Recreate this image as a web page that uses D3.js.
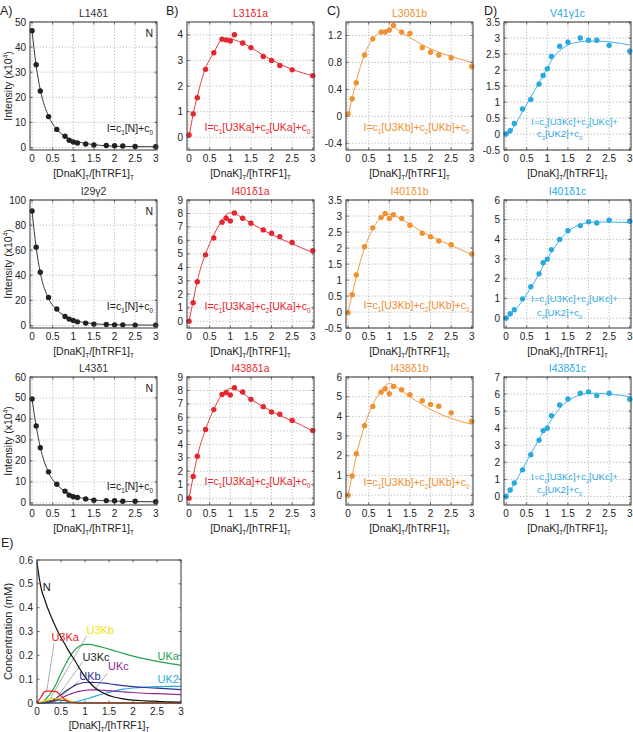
<!DOCTYPE html>
<html><head><meta charset="utf-8">
<script src="https://cdn.jsdelivr.net/npm/d3@7"></script>
<style>
body{margin:0;background:#fff}
svg{display:block}
text{font-family:"Liberation Sans",Arial,Helvetica,sans-serif}
</style>
</head><body>
<svg id="c" width="633" height="732"></svg>
<script>
// ---------- DATA ----------
const xs = [0,0.1,0.2,0.4,0.6,0.8,0.9,1.0,1.1,1.3,1.5,1.8,2.0,2.2,2.5,3.0];
const xTickLabels = [0,0.5,1,1.5,2,2.5,3];

// Column A (N)
const L14d1    = [46.5,33,22.5,12.3,7.2,4.5,2.9,2.2,1.8,1.4,1.0,0.8,0.7,0.6,0.4,0.3];
const L14d1Fit = [46.5,32.5,23,12.5,7.3,4.4,3.5,2.8,2.3,1.6,1.1,0.7,0.55,0.45,0.35,0.3];
const I29g2    = [91.2,62.4,42.4,22.4,13.1,7.2,5.1,4.0,2.9,1.9,1.1,0.8,0.5,0.5,0.3,0.3];
const I29g2Fit = [91,62,42,21.5,12.5,7.5,5.8,4.5,3.5,2.2,1.4,0.8,0.6,0.5,0.4,0.3];
const L43d1    = [49.5,36.7,26.3,14.8,8.9,5.6,3.7,2.9,2.6,1.9,1.3,1.1,1.0,0.8,0.8,0.6];
const L43d1Fit = [49.5,36.5,26.5,14.5,8.8,5.5,4.4,3.5,2.8,2.0,1.4,1.0,0.85,0.75,0.65,0.55];
// Column B (a)
const L31d1a    = [0.09,0.91,1.54,2.65,3.3,3.83,3.8,3.76,4.0,3.68,3.5,3.15,3.0,2.8,2.63,2.4];
const L31d1aFit = [0.02,0.9,1.6,2.7,3.3,3.82,3.85,3.87,3.8,3.68,3.5,3.2,3.02,2.86,2.65,2.4];
const I401d1a    = [0,1.38,2.93,4.93,6.18,7.35,7.65,7.45,8.03,7.65,7.28,6.78,6.53,6.28,5.85,5.23];
const I401d1aFit = [0,1.5,3.0,5.0,6.4,7.5,7.9,8.05,8.0,7.65,7.3,6.75,6.45,6.15,5.75,5.1];
const I438d1a    = [0,1.61,3.12,5.1,6.58,7.7,7.85,7.66,8.2,7.89,7.34,6.8,6.4,6.23,5.78,5.03];
const I438d1aFit = [0,1.6,3.1,5.1,6.6,7.7,8.0,8.15,8.1,7.8,7.35,6.8,6.45,6.15,5.75,5.0];
// Column C (b)
const L30d1b    = [0.035,0.26,0.50,0.91,1.15,1.25,1.25,1.28,1.35,1.25,1.23,1.02,0.95,0.91,0.87,0.74];
const L30d1bFit = [0,0.27,0.52,0.92,1.15,1.25,1.27,1.3,1.32,1.24,1.17,1.06,1.0,0.95,0.89,0.8];
const I401d1b    = [-0.02,0.54,1.16,2.04,2.63,2.95,3.08,2.92,3.04,2.92,2.71,2.46,2.35,2.22,2.1,1.81];
const I401d1bFit = [0,0.55,1.1,2.0,2.6,2.95,3.02,3.05,3.02,2.9,2.75,2.5,2.37,2.25,2.08,1.8];
const I438d1b    = [0,0.97,2.1,3.53,4.5,5.23,5.4,5.15,5.52,5.35,5.1,4.8,4.6,4.52,4.18,3.75];
const I438d1bFit = [0,1.0,2.0,3.55,4.6,5.3,5.55,5.68,5.6,5.3,5.0,4.6,4.35,4.15,3.9,3.6];
// Column D (c)
const V41g1c    = [0,0.1,0.33,0.78,1.08,1.56,1.83,2.04,2.42,2.74,2.87,3.0,2.93,2.93,2.77,2.59];
const V41g1cFit = [0,0.07,0.25,0.7,1.15,1.6,1.85,2.05,2.3,2.6,2.78,2.88,2.9,2.9,2.88,2.78];
const I401d1c    = [0,0.22,0.43,0.98,1.6,2.25,2.81,3.0,3.48,4.0,4.44,4.7,4.89,4.83,4.97,4.92];
const I401d1cFit = [0,0.18,0.38,0.9,1.55,2.25,2.65,3.0,3.35,3.95,4.4,4.75,4.85,4.88,4.88,4.85];
const I438d1c    = [0,0.38,0.79,1.56,2.45,3.3,3.86,4.0,4.73,5.36,5.71,6.05,6.13,5.91,6.05,5.7];
const I438d1cFit = [0,0.35,0.75,1.6,2.5,3.35,3.8,4.15,4.5,5.15,5.6,5.95,6.05,6.05,6.0,5.85];
// error bar half-widths (C and D columns)
const errL30d1b = 0.04, errI401d1b = 0.07, errI438d1b = 0.12;
const errV41g1c = 0.08, errI401d1c = 0.1, errI438d1c = 0.12;

// y tick labels
const ticksA1 = [0,10,20,30,40,50];
const ticksA2 = [0,20,40,60,80,100];
const ticksA3 = [0,10,20,30,40,50,60];
const ticksB1 = [0,1,2,3,4];
const ticksB23 = [0,1,2,3,4,5,6,7,8,9];
const ticksC1 = [-0.4,0,0.4,0.8,1.2];
const ticksC2 = [-0.5,0,0.5,1,1.5,2,2.5,3,3.5];
const ticksC3 = [0,1,2,3,4,5,6];
const ticksD1 = [-0.5,0,0.5,1,1.5,2,2.5,3,3.5];
const ticksD2 = [0,1,2,3,4,5,6];
const ticksD3 = [0,1,2,3,4,5,6,7];

// Panel E: species concentrations (mM)
const eX    = [0,0.05,0.1,0.15,0.2,0.3,0.4,0.5,0.6,0.7,0.8,0.9,1.0,1.1,1.2,1.4,1.6,1.8,2.0,2.25,2.5,2.75,3.0];
const concN    = [0.59,0.52,0.47,0.44,0.41,0.36,0.315,0.275,0.24,0.205,0.175,0.14,0.11,0.085,0.065,0.04,0.025,0.017,0.012,0.009,0.007,0.005,0.004];
const concU3Ka = [0,0.015,0.03,0.046,0.05,0.05,0.048,0.03,0.012,0.003,0.001,0,0,0,0,0,0,0,0,0,0,0,0];
const concU3Kb = [0,0.002,0.005,0.008,0.012,0.018,0.02,0.02,0.016,0.008,0.003,0.001,0,0,0,0,0,0,0,0,0,0,0];
const concU3Kc = [0,0.001,0.002,0.004,0.006,0.01,0.012,0.012,0.01,0.006,0.002,0.001,0,0,0,0,0,0,0,0,0,0,0];
const concUKa  = [0,0,0.003,0.01,0.02,0.045,0.08,0.125,0.165,0.2,0.225,0.24,0.246,0.246,0.242,0.232,0.22,0.208,0.197,0.185,0.175,0.166,0.158];
const concUKb  = [0,0,0,0.001,0.002,0.008,0.02,0.035,0.05,0.063,0.075,0.082,0.086,0.087,0.086,0.083,0.078,0.073,0.069,0.065,0.062,0.059,0.056];
const concUKc  = [0,0,0,0,0.001,0.003,0.01,0.02,0.03,0.038,0.045,0.05,0.053,0.055,0.055,0.053,0.05,0.047,0.044,0.041,0.039,0.037,0.035];
const concUK2  = [0,0,0,0,0,0,0,0,0.001,0.003,0.005,0.01,0.015,0.021,0.028,0.04,0.05,0.058,0.063,0.067,0.069,0.07,0.07];
const eTicksY = [0,0.1,0.2,0.3,0.4,0.5,0.6];
const eTicksX = [0,0.5,1,1.5,2,2.5,3];
const eSpecies = ["N","U3Ka","U3Kb","U3Kc","UKa","UKb","UKc","UK2"];

// ---------- STYLE / LAYOUT ----------
const RED = "#e5262d", ORANGE = "#f09030", CYAN = "#2aa9e0", DARK = "#222";
const colLeft = [30, 187, 346, 504], rowTop = [22, 200, 377], W = 127, H = 128;
const FS = 10.5;

const panels = [
  {c:0,r:0,title:"L14δ1",col:DARK,y:L14d1,fit:L14d1Fit,dom:[-1,50],ticks:ticksA1,f:["I=c_1[N]+c_0"],fy:[110]},
  {c:0,r:1,title:"I29γ2",col:DARK,y:I29g2,fit:I29g2Fit,dom:[-2,100],ticks:ticksA2,f:["I=c_1[N]+c_0"],fy:[110]},
  {c:0,r:2,title:"L43δ1",col:DARK,y:L43d1,fit:L43d1Fit,dom:[-1,60],ticks:ticksA3,f:["I=c_1[N]+c_0"],fy:[113]},
  {c:1,r:0,title:"L31δ1a",col:RED,y:L31d1a,fit:L31d1aFit,dom:[-0.5,4.5],ticks:ticksB1,f:["I=c_1[U3Ka]+c_2[UKa]+c_0"],fy:[109]},
  {c:1,r:1,title:"I401δ1a",col:RED,y:I401d1a,fit:I401d1aFit,dom:[-0.5,9],ticks:ticksB23,f:["I=c_1[U3Ka]+c_2[UKa]+c_0"],fy:[110]},
  {c:1,r:2,title:"I438δ1a",col:RED,y:I438d1a,fit:I438d1aFit,dom:[-0.5,9],ticks:ticksB23,f:["I=c_1[U3Ka]+c_2[UKa]+c_0"],fy:[108]},
  {c:2,r:0,title:"L30δ1b",col:ORANGE,y:L30d1b,fit:L30d1bFit,dom:[-0.5,1.4],ticks:ticksC1,err:errL30d1b,f:["I=c_1[U3Kb]+c_2[UKb]+c_0"],fy:[109]},
  {c:2,r:1,title:"I401δ1b",col:ORANGE,y:I401d1b,fit:I401d1bFit,dom:[-0.5,3.5],ticks:ticksC2,err:errI401d1b,f:["I=c_1[U3Kb]+c_2[UKb]+c_0"],fy:[109]},
  {c:2,r:2,title:"I438δ1b",col:ORANGE,y:I438d1b,fit:I438d1bFit,dom:[-0.5,6],ticks:ticksC3,err:errI438d1b,f:["I=c_1[U3Kb]+c_2[UKb]+c_0"],fy:[109]},
  {c:3,r:0,title:"V41γ1c",col:CYAN,y:V41g1c,fit:V41g1cFit,dom:[-0.5,3.5],ticks:ticksD1,err:errV41g1c,f:["I=c_1[U3Kc]+c_2[UKc]+","c_3[UK2]+c_0"],fy:[103,115]},
  {c:3,r:1,title:"I401δ1c",col:CYAN,y:I401d1c,fit:I401d1cFit,dom:[-0.5,6],ticks:ticksD2,err:errI401d1c,f:["I=c_1[U3Kc]+c_2[UKc]+","c_3[UK2]+c_0"],fy:[102,116]},
  {c:3,r:2,title:"I438δ1c",col:CYAN,y:I438d1c,fit:I438d1cFit,dom:[-0.5,7],ticks:ticksD3,err:errI438d1c,f:["I=c_1[U3Kc]+c_2[UKc]+","c_3[UK2]+c_0"],fy:[103,116]},
];

const svg = d3.select("#c");

function rich(sel, str, size) {
  const parts = []; let buf = "", i = 0;
  while (i < str.length) {
    const ch = str[i];
    if ((ch === "_" || ch === "^") && i + 1 < str.length) {
      if (buf) { parts.push({t: buf}); buf = ""; }
      parts.push({t: str[i+1], k: ch}); i += 2;
    } else { buf += ch; i++; }
  }
  if (buf) parts.push({t: buf});
  let shift = 0;
  parts.forEach(p => {
    const ts = sel.append("tspan").text(p.t);
    const target = p.k === "_" ? size*0.28 : (p.k === "^" ? -size*0.42 : 0);
    if (target - shift !== 0) ts.attr("dy", target - shift);
    shift = target;
    if (p.k) ts.attr("font-size", size*0.6);
  });
}

function frame(g, x, y, w, h, xt, yt) {
  g.append("g").selectAll("line").data(xt).join("line")
    .attr("x1", d => x(d)).attr("x2", d => x(d)).attr("y1", 0).attr("y2", h)
    .attr("stroke", "#aaa").attr("stroke-width", 0.8).attr("stroke-dasharray", "1.2,2");
  g.append("g").selectAll("line").data(yt).join("line")
    .attr("y1", d => y(d)).attr("y2", d => y(d)).attr("x1", 0).attr("x2", w)
    .attr("stroke", "#aaa").attr("stroke-width", 0.8).attr("stroke-dasharray", "1.2,2");
}
function boxTicks(g, x, y, w, h, xt, yt) {
  const tl = 2.5;
  const tg = g.append("g").attr("stroke", "#444").attr("stroke-width", 0.8);
  xt.forEach(d => {
    tg.append("line").attr("x1", x(d)).attr("x2", x(d)).attr("y1", h).attr("y2", h - tl);
    tg.append("line").attr("x1", x(d)).attr("x2", x(d)).attr("y1", 0).attr("y2", tl);
  });
  yt.forEach(d => {
    tg.append("line").attr("y1", y(d)).attr("y2", y(d)).attr("x1", 0).attr("x2", tl);
    tg.append("line").attr("y1", y(d)).attr("y2", y(d)).attr("x1", w).attr("x2", w - tl);
  });
  g.append("rect").attr("x", 0).attr("y", 0).attr("width", w).attr("height", h)
    .attr("fill", "none").attr("stroke", "#444").attr("stroke-width", 1.1);
  g.append("g").selectAll("text").data(xt).join("text")
    .attr("x", d => x(d)).attr("y", h + 12).attr("text-anchor", "middle")
    .attr("font-size", FS - 0.5).attr("fill", "#222").text(d => d);
  g.append("g").selectAll("text").data(yt).join("text")
    .attr("x", -4).attr("y", d => y(d) + 3.5).attr("text-anchor", "end")
    .attr("font-size", FS - 0.5).attr("fill", "#222").text(d => d);
}
function xTitle(g, cx, yb) {
  const t = g.append("text").attr("x", cx).attr("y", yb).attr("text-anchor", "middle")
    .attr("font-size", FS).attr("fill", "#222");
  rich(t, "[DnaK]_T/[hTRF1]_T", FS);
}

panels.forEach(p => {
  const g = svg.append("g").attr("transform", `translate(${colLeft[p.c]},${rowTop[p.r]})`);
  const x = d3.scaleLinear().domain([-0.05, 3.03]).range([0, W]);
  const y = d3.scaleLinear().domain(p.dom).range([H, 0]);
  frame(g, x, y, W, H, xTickLabels, p.ticks);
  const line = d3.line().x((d, i) => x(xs[i])).y(d => y(d)).curve(d3.curveMonotoneX);
  g.append("path").datum(p.fit).attr("d", line).attr("fill", "none")
    .attr("stroke", p.col).attr("stroke-width", 0.9);
  if (p.err) {
    g.append("g").selectAll("line").data(p.y).join("line")
      .attr("x1", (d, i) => x(xs[i])).attr("x2", (d, i) => x(xs[i]))
      .attr("y1", d => y(d - p.err)).attr("y2", d => y(d + p.err))
      .attr("stroke", p.col).attr("stroke-width", 1);
  }
  g.append("g").selectAll("circle").data(p.y).join("circle")
    .attr("cx", (d, i) => x(xs[i])).attr("cy", d => y(d)).attr("r", 2.7)
    .attr("fill", p.col);
  boxTicks(g, x, y, W, H, xTickLabels, p.ticks);
  g.append("text").attr("x", W / 2).attr("y", -5).attr("text-anchor", "middle")
    .attr("font-size", FS).attr("fill", p.c === 0 ? "#333" : p.col).text(p.title);
  xTitle(g, W / 2, H + 27);
  if (p.c === 0) {
    g.append("text").attr("x", W - 4).attr("y", 15).attr("text-anchor", "end")
      .attr("font-size", FS).attr("fill", "#222").text("N");
    const t = g.append("text").attr("x", W - 4).attr("y", p.fy[0]).attr("text-anchor", "end")
      .attr("font-size", FS).attr("fill", "#222");
    rich(t, p.f[0], FS);
    const yl = g.append("text").attr("transform", `translate(${-18},${H/2}) rotate(-90)`)
      .attr("text-anchor", "middle").attr("font-size", FS).attr("fill", "#222");
    rich(yl, "Intensity (x10^4)", FS);
  } else if (p.c === 1 || p.c === 2) {
    const t = g.append("text").attr("x", 17.5).attr("y", p.fy[0])
      .attr("font-size", FS).attr("fill", p.col);
    rich(t, p.f[0], FS);
  } else {
    p.f.forEach((s, k) => {
      const t = g.append("text").attr("x", k === 0 ? 27 : 33).attr("y", p.fy[k])
        .attr("font-size", 9.5).attr("fill", p.col);
      rich(t, s, 9.5);
    });
  }
});

// panel letters
[["A)",0,15],["B)",166,15],["C)",327,15],["D)",484,15],["E)",1,547]].forEach(d => {
  svg.append("text").attr("x", d[1]).attr("y", d[2]).attr("font-size", 12.5).attr("fill", "#222").text(d[0]);
});

// ---------- Panel E ----------
{
  const L = 37, T = 560, w = 144, h = 143;
  const g = svg.append("g").attr("transform", `translate(${L},${T})`);
  const x = d3.scaleLinear().domain([0, 3]).range([0, w]);
  const y = d3.scaleLinear().domain([0, 0.6]).range([h, 0]);
  const series = [
    {k:"UK2", v:concUK2, col:"#29abe2"},
    {k:"UKc", v:concUKc, col:"#93278f"},
    {k:"UKb", v:concUKb, col:"#2e3192"},
    {k:"UKa", v:concUKa, col:"#22a24a"},
    {k:"U3Kc", v:concU3Kc, col:"#555"},
    {k:"U3Kb", v:concU3Kb, col:"#f2d600"},
    {k:"U3Ka", v:concU3Ka, col:"#ed1c24"},
    {k:"N", v:concN, col:"#111"},
  ];
  const line = d3.line().x((d, i) => x(eX[i])).y(d => y(d)).curve(d3.curveMonotoneX);
  // leader lines (label -> curve), data coords
  const leaders = [
    [[0.355,0.25],[0.2,0.046]],
    [[1.03,0.28],[0.28,0.02]],
    [[0.95,0.172],[0.38,0.014]],
    [[0.88,0.094],[0.52,0.03]],
    [[1.47,0.126],[1.2,0.056]],
  ];
  g.append("g").selectAll("line").data(leaders).join("line")
    .attr("x1", d => x(d[0][0])).attr("y1", d => y(d[0][1]))
    .attr("x2", d => x(d[1][0])).attr("y2", d => y(d[1][1]))
    .attr("stroke", "#777").attr("stroke-width", 0.6);
  series.forEach(s => {
    g.append("path").datum(s.v).attr("d", line).attr("fill", "none")
      .attr("stroke", s.col).attr("stroke-width", 1.2);
  });
  boxTicks(g, x, y, w, h, eTicksX, eTicksY);
  xTitle(g, w / 2, h + 26);
  g.append("text").attr("transform", `translate(${-25},${h/2}) rotate(-90)`)
    .attr("text-anchor", "middle").attr("font-size", FS + 0.5).attr("fill", "#222")
    .text("Concentration (mM)");
  const labs = [
    {t:"N", x:0.12, y:0.47, col:"#111"},
    {t:"U3Ka", x:0.3, y:0.26, col:"#ed1c24"},
    {t:"U3Kb", x:1.03, y:0.29, col:"#f2e10a"},
    {t:"U3Kc", x:0.95, y:0.175, col:"#222"},
    {t:"UKb", x:0.88, y:0.098, col:"#2e3192"},
    {t:"UKc", x:1.48, y:0.138, col:"#93278f"},
    {t:"UKa", x:2.51, y:0.18, col:"#22a24a"},
    {t:"UK2", x:2.51, y:0.084, col:"#29abe2"},
  ];
  g.append("g").selectAll("text").data(labs).join("text")
    .attr("x", d => x(d.x)).attr("y", d => y(d.y)).attr("font-size", FS + 0.5)
    .attr("fill", d => d.col).text(d => d.t);
}
</script>
</body></html>
